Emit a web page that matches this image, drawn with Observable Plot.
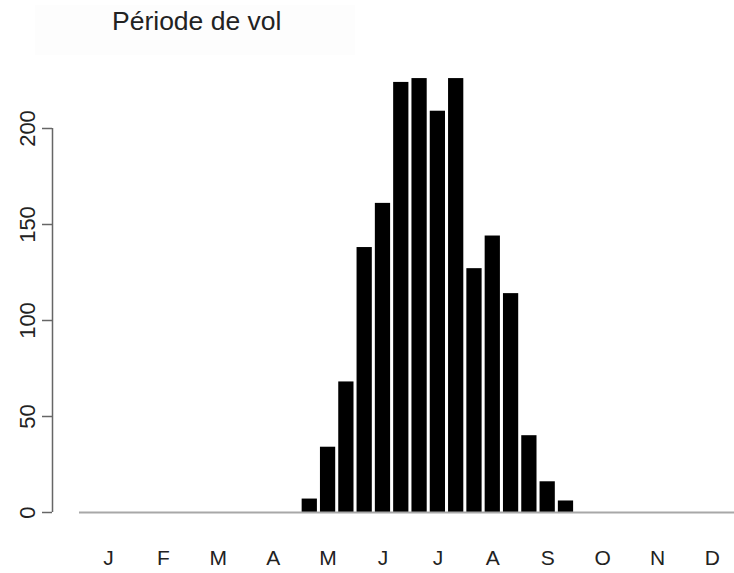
<!DOCTYPE html>
<html>
<head>
<meta charset="utf-8">
<script src="https://cdn.jsdelivr.net/npm/d3@7"></script>
<script src="https://cdn.jsdelivr.net/npm/@observablehq/plot@0.6"></script>
<style>
  html, body { margin: 0; padding: 0; background: #fff; }
  #wrap { position: relative; width: 734px; height: 573px; overflow: hidden; font-family: "Liberation Sans", Arial, sans-serif; }
  #panel { position: absolute; left: 35px; top: 5px; width: 320px; height: 50px; background: #fdfdfd; }
  #title { position: absolute; left: 112px; top: 8px; font-size: 26.5px; line-height: 26px; color: #222; white-space: nowrap; }
  #chart { position: absolute; left: 0; top: 0; }
</style>
</head>
<body>
<div id="wrap">
  <div id="panel"></div>
  <div id="chart"></div>
  <div id="title">Période de vol</div>
</div>
<script>
// Flight period: number of observations per ten-day period (3 per month)
const months = ["J", "F", "M", "A", "M", "J", "J", "A", "S", "O", "N", "D"];
const decade1 = [0, 0, 0, 0, 7, 138, 226, 127, 40, 0, 0, 0];
const decade2 = [0, 0, 0, 0, 34, 161, 209, 144, 16, 0, 0, 0];
const decade3 = [0, 0, 0, 0, 68, 224, 226, 114, 6, 0, 0, 0];
const yTicks = [0, 50, 100, 150, 200];

// barplot-style layout: unit bar width with 0.2 spacing
const space = 0.2;
const bars = [];
months.forEach((m, i) => {
  [decade1[i], decade2[i], decade3[i]].forEach((v, k) => {
    const idx = i * 3 + k;
    const x1 = space + idx * (1 + space);
    bars.push({x1, x2: x1 + 1, value: v});
  });
});
// each month label sits under the middle ten-day bar of that month
const monthLabels = months.map((m, i) => {
  const b = bars[i * 3 + 1];
  return {m, x: (b.x1 + b.x2) / 2};
});

const xmin = -1.77, xmax = 42.95;

const chart = Plot.plot({
  width: 734,
  height: 573,
  marginLeft: 52,
  marginRight: 0,
  marginTop: 128,
  marginBottom: 61,
  style: {fontFamily: "Liberation Sans, Arial, sans-serif", background: "transparent", overflow: "visible"},
  x: {domain: [xmin, xmax], axis: null},
  y: {domain: [0, 200], axis: null},
  marks: [
    Plot.rectY(bars, {x1: "x1", x2: "x2", y1: 0, y2: "value", fill: "#000"}),
    Plot.ruleY([0], {x1: 0, x2: xmax, stroke: "#a8a8a8", strokeWidth: 2}),
    Plot.ruleX([xmin], {y1: 0, y2: 200, stroke: "#666", strokeWidth: 1.5}),
    Plot.axisY(yTicks, {anchor: "left", label: null, tickSize: 10, tickFormat: () => "", stroke: "#666", strokeWidth: 1.5}),
    Plot.text(yTicks, {x: xmin, y: d => d, dx: -25, rotate: -90, text: d => String(d), fontSize: 22, fill: "#222", textAnchor: "middle", lineAnchor: "middle"}),
    Plot.text(monthLabels, {x: "x", y: 0, dy: 46, text: "m", fontSize: 21, fill: "#222", textAnchor: "middle", lineAnchor: "middle"})
  ]
});
document.getElementById("chart").appendChild(chart);
</script>
</body>
</html>
